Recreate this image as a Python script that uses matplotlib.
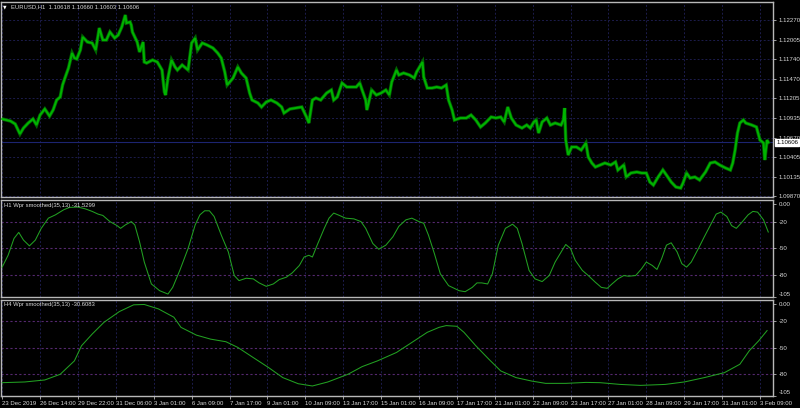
import matplotlib
matplotlib.use("Agg")
import matplotlib.pyplot as plt
import numpy as np

# ---------------- data ----------------
symbol = "EURUSD,H1"
last_ohlc = [1.10618, 1.10660, 1.10603, 1.10606]

price_bar = [0, 7, 11, 15, 18, 22, 26, 29, 32, 36,
             40, 43, 46, 49, 51, 53, 56, 59, 61, 63,
             66, 68, 72, 76, 79, 82, 85, 88, 91, 95,
             98, 101, 104, 105, 108, 109, 110, 114, 116, 119,
             120, 122, 127, 131, 135, 137, 138, 140, 143, 146,
             148, 152, 157, 160, 163, 165, 169, 173, 178, 182,
             185, 188, 190, 195, 199, 202, 206, 209, 211, 216,
             219, 223, 227, 232, 236, 238, 243, 248, 253, 257,
             259, 262, 265, 269, 274, 278, 280, 283, 287, 291,
             295, 299, 302, 304, 307, 308, 312, 316, 320, 324,
             327, 329, 333, 335, 339, 344, 348, 350, 355, 356,
             359, 363, 367, 371, 375, 377, 380, 382, 387, 392,
             396, 400, 404, 408, 413, 417, 421, 424, 427, 430,
             434, 439, 443, 446, 449, 451, 453, 456, 460, 463,
             467, 472, 474, 475, 476, 478, 481, 485, 489, 493,
             495, 498, 501, 505, 509, 514, 518, 520, 525, 527,
             531, 536, 540, 544, 547, 550, 554, 558, 561, 565,
             569, 573, 575, 578, 581, 585, 589, 594, 598, 602,
             606, 611, 615, 617, 619, 621, 623, 626, 628, 633,
             637, 640, 643, 644, 646, 647]
price_close = [1.10924, 1.10896, 1.10856, 1.10720, 1.10801, 1.10869, 1.10924, 1.10842, 1.10978, 1.11060,
               1.10964, 1.11046, 1.11182, 1.11223, 1.11386, 1.11481, 1.11617, 1.11821, 1.11753, 1.11740,
               1.11862, 1.12039, 1.11971, 1.11957, 1.11862, 1.12161, 1.11998, 1.11998, 1.12107, 1.12025,
               1.12066, 1.12175, 1.12338, 1.12229, 1.12243, 1.12202, 1.12107, 1.11971, 1.11835, 1.11971,
               1.11699, 1.11685, 1.11726, 1.11699, 1.11590, 1.11291, 1.11250, 1.11481, 1.11726, 1.11631,
               1.11590, 1.11658, 1.11590, 1.11957, 1.12025, 1.11862, 1.11957, 1.11930, 1.11889, 1.11821,
               1.11753, 1.11563, 1.11386, 1.11481, 1.11631, 1.11549, 1.11481, 1.11277, 1.11182, 1.11141,
               1.11087, 1.11155, 1.11182, 1.11141, 1.11087, 1.11005, 1.11060, 1.11073, 1.11087, 1.10951,
               1.10869, 1.11182, 1.11209, 1.11182, 1.11277, 1.11318, 1.11182, 1.11223, 1.11413, 1.11359,
               1.11359, 1.11359, 1.11413, 1.11318, 1.11182, 1.11046, 1.11318, 1.11250, 1.11277, 1.11318,
               1.11250, 1.11427, 1.11590, 1.11522, 1.11549, 1.11522, 1.11481, 1.11563, 1.11699, 1.11495,
               1.11345, 1.11345, 1.11359, 1.11345, 1.11386, 1.11182, 1.11046, 1.10910, 1.10937, 1.10937,
               1.10978, 1.10910, 1.10815, 1.10869, 1.10951, 1.10937, 1.10951, 1.10883, 1.11087, 1.10937,
               1.10842, 1.10801, 1.10842, 1.10801, 1.10883, 1.10910, 1.10733, 1.10883, 1.10937, 1.10842,
               1.10869, 1.10842, 1.10910, 1.11073, 1.10638, 1.10434, 1.10543, 1.10543, 1.10502, 1.10597,
               1.10407, 1.10325, 1.10271, 1.10298, 1.10325, 1.10298, 1.10339, 1.10230, 1.10298, 1.10135,
               1.10189, 1.10203, 1.10189, 1.10189, 1.10067, 1.10026, 1.10135, 1.10230, 1.10162, 1.10067,
               1.09999, 1.09985, 1.10053, 1.10189, 1.10121, 1.10135, 1.10094, 1.10203, 1.10325, 1.10339,
               1.10298, 1.10257, 1.10230, 1.10325, 1.10502, 1.10733, 1.10869, 1.10910, 1.10869, 1.10842,
               1.10815, 1.10638, 1.10597, 1.10366, 1.10638, 1.10606]

h1_name = "H1 Wpr smoothed(35,13)"
h1_last = -31.5299
h1_bar = [0, 5, 10, 14, 18, 23, 28, 33, 39, 45,
          52, 57, 64, 70, 76, 81, 85, 91, 97, 100,
          104, 109, 112, 116, 120, 126, 133, 140, 144, 150,
          157, 163, 167, 171, 175, 179, 185, 191, 196, 200,
          206, 212, 217, 223, 229, 234, 240, 245, 251, 255,
          259, 262, 266, 272, 276, 280, 285, 290, 297, 303,
          307, 313, 318, 324, 330, 335, 341, 346, 352, 356,
          360, 365, 370, 377, 386, 391, 397, 401, 405, 410,
          414, 419, 425, 431, 435, 439, 445, 450, 456, 462,
          467, 473, 476, 480, 484, 490, 495, 501, 506, 511,
          515, 520, 525, 529, 535, 540, 544, 549, 553, 557,
          561, 565, 570, 574, 578, 582, 588, 593, 599, 603,
          607, 612, 616, 620, 624, 630, 634, 638, 643, 647]
h1_val = [-71.5, -58.0, -38.8, -31.9, -40.7, -47.3, -40.7, -27.3, -15.7, -11.9,
          -6.1, -3.4, -3.1, -5.0, -8.0, -11.1, -12.6, -19.6, -24.2, -27.3,
          -23.4, -19.6, -23.4, -42.6, -65.7, -90.7, -98.4, -102.2, -94.6, -75.3,
          -50.3, -23.4, -11.9, -7.3, -7.3, -13.8, -34.9, -54.2, -81.1, -86.9,
          -84.2, -84.9, -89.5, -93.4, -90.7, -85.7, -83.0, -78.0, -69.6, -60.0,
          -58.0, -60.0, -46.5, -27.3, -15.7, -9.9, -12.7, -15.7, -16.5, -19.6,
          -27.3, -44.6, -51.1, -46.5, -36.9, -25.0, -17.6, -15.7, -19.6, -21.5,
          -35.0, -56.0, -79.0, -92.6, -98.4, -99.5, -94.6, -89.5, -89.5, -90.7,
          -79.0, -46.5, -27.3, -22.6, -27.3, -44.6, -75.3, -84.9, -88.0, -81.1,
          -65.7, -52.2, -45.7, -50.3, -63.8, -75.3, -81.1, -88.8, -94.6, -95.7,
          -90.7, -84.9, -81.1, -81.9, -81.1, -73.4, -65.7, -69.6, -74.2, -61.8,
          -46.5, -43.8, -54.2, -67.6, -71.5, -65.7, -50.3, -36.9, -21.5, -11.1,
          -8.8, -13.8, -24.2, -27.3, -21.5, -11.9, -8.0, -8.8, -17.6, -31.5]

h4_name = "H4 Wpr smoothed(35,13)"
h4_last = -30.6083
h4_bar = [0, 19, 36, 49, 61, 67, 76, 86, 99, 111,
          120, 132, 145, 151, 164, 176, 189, 199, 212, 225,
          237, 250, 262, 275, 292, 304, 317, 333, 346, 359,
          369, 375, 384, 390, 400, 411, 421, 434, 447, 459,
          476, 493, 505, 522, 539, 560, 576, 593, 610, 623,
          631, 639, 646]
h4_val = [-90.3, -89.5, -87.2, -80.7, -65.3, -48.0, -34.6, -21.1, -8.8, -1.1,
          -0.7, -5.8, -15.3, -26.9, -35.8, -40.4, -43.4, -49.9, -61.5, -73.0,
          -84.5, -91.5, -94.1, -89.5, -80.7, -71.9, -65.3, -55.7, -44.2, -32.6,
          -26.9, -24.9, -25.7, -32.6, -48.0, -63.4, -76.8, -84.5, -88.4, -91.1,
          -91.1, -90.0, -90.3, -92.3, -93.4, -92.3, -89.5, -84.5, -78.8, -69.2,
          -53.7, -42.2, -30.6]

price_ticks = [1.12270, 1.12005, 1.11740, 1.11470, 1.11205, 1.10935,
               1.10670, 1.10405, 1.10135, 1.09870]
price_range = [1.09863, 1.12515]
wpr_ticks = [0, -20, -50, -80, -105]
wpr_tick_labels = ["0.00", "-20", "-50", "-80", "-105"]
wpr_levels = [-20, -50, -80]
wpr_range = [-105, 5]

time_labels = ["23 Dec 2019", "26 Dec 14:00", "29 Dec 22:00", "31 Dec 06:00",
               "3 Jan 01:00", "6 Jan 09:00", "7 Jan 17:00", "9 Jan 01:00",
               "10 Jan 09:00", "13 Jan 17:00", "15 Jan 01:00", "16 Jan 09:00",
               "17 Jan 17:00", "21 Jan 01:00", "22 Jan 09:00", "23 Jan 17:00",
               "27 Jan 01:00", "28 Jan 09:00", "29 Jan 17:00", "31 Jan 01:00",
               "3 Feb 09:00"]
bars_per_label = 32
bar_range = [-1, 651]

# ---------------- style ----------------
FONT = "Liberation Sans"
plt.rcParams["font.family"] = [FONT, "DejaVu Sans"]
BG = "black"
FRAME = "#b8b8b8"
TXT = "#d8d8d8"
GRID = "#1c1c4c"
LEVEL = "#55286e"
GREEN = "#00b400"
LINE_GREEN = "#22a022"
BID = "#1c2470"

W, H = 800, 408
fig = plt.figure(figsize=(W / 100, H / 100), dpi=100, facecolor=BG)


def px_axes(x0, y0, x1, y1):
    return fig.add_axes([x0 / W, 1 - y1 / H, (x1 - x0) / W, (y1 - y0) / H])


def ftext(x, y, s, **kw):
    fig.text(x / W, 1 - y / H, s, **kw)


ax_p = px_axes(1, 2, 773, 197)
ax_1 = px_axes(1, 200, 773, 296.5)
ax_2 = px_axes(1, 299.5, 773, 395.5)

xt = np.arange(len(time_labels)) * bars_per_label

for ax in (ax_p, ax_1, ax_2):
    ax.set_facecolor(BG)
    for sp in ax.spines.values():
        sp.set_color(FRAME)
        sp.set_linewidth(1.0)
    ax.set_xlim(*bar_range)
    ax.yaxis.tick_right()
    ax.tick_params(axis="y", colors=FRAME, labelcolor=TXT, length=2.5,
                   width=0.6, labelsize=4.4, pad=1.5)
    ax.set_xticks(xt)
    for x in xt:
        ax.axvline(x, color=GRID, lw=0.7, ls=(0, (2, 2)), zorder=0)

ax_p.tick_params(axis="x", length=0, labelbottom=False)
ax_1.tick_params(axis="x", length=0, labelbottom=False)
ax_2.set_xticklabels(time_labels)
ax_2.tick_params(axis="x", colors=FRAME, labelcolor=TXT, length=2.5,
                 width=0.6, labelsize=4.3, pad=1.2)
for t in ax_2.get_xticklabels():
    t.set_ha("left")

# ---- price panel ----
ax_p.set_ylim(*price_range)
ax_p.set_yticks(price_ticks)
ax_p.set_yticklabels([f"{v:.5f}" for v in price_ticks])
for v in price_ticks:
    ax_p.axhline(v, color=GRID, lw=0.7, ls=(0, (2, 2)), zorder=0)
ax_p.axhline(last_ohlc[3], color=BID, lw=0.8, zorder=1)
ax_p.plot(price_bar, price_close, color="#006400", lw=2.5, zorder=2,
          solid_joinstyle="miter")
ax_p.plot(price_bar, price_close, color=GREEN, lw=1.4, zorder=3,
          solid_joinstyle="miter")
ax_p.text(1.004, last_ohlc[3], f"{last_ohlc[3]:.5f}", transform=ax_p.get_yaxis_transform(),
          ha="left", va="center", fontsize=4.4, color="black",
          bbox=dict(boxstyle="square,pad=0.15", fc="white", ec="white"), clip_on=False,
          zorder=10)

ftext(5, 6.5, "\u25BC", fontsize=3.3, color="white", va="center", ha="center",
      family=["DejaVu Sans"])
ftext(11, 6.5, symbol + "  " + " ".join(f"{v:.5f}" for v in last_ohlc),
      fontsize=4.2, color=TXT, va="center", ha="left")

# ---- indicator panels ----
for ax, bars, vals, name, last, ytop in ((ax_1, h1_bar, h1_val, h1_name, h1_last, 205),
                                         (ax_2, h4_bar, h4_val, h4_name, h4_last, 304.5)):
    ax.set_ylim(*wpr_range)
    ax.set_yticks(wpr_ticks)
    ax.set_yticklabels(wpr_tick_labels)
    for lab in ax.get_yticklabels():
        if lab.get_text() == "-105":
            lab.set_va("bottom")
    for lv in wpr_levels:
        ax.axhline(lv, color=LEVEL, lw=0.8, ls=(0, (2, 2)), zorder=0)
    ax.plot(bars, vals, color=LINE_GREEN, lw=0.75, zorder=3)
    ftext(4, ytop, f"{name} {last:.4f}", fontsize=4.2, color=TXT,
          va="center", ha="left")

fig.savefig("out.png", dpi=100, facecolor=BG)
